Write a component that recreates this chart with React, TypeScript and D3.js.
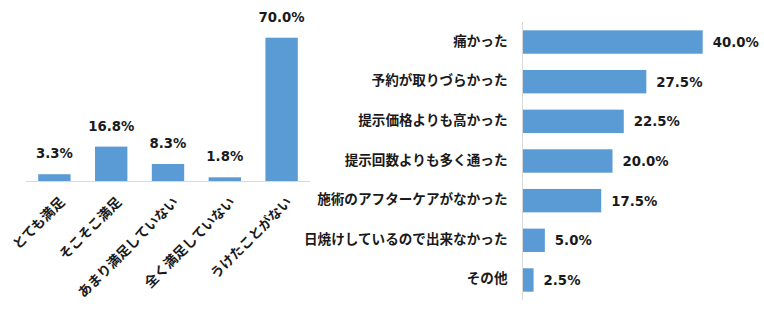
import React from "react";
import * as d3 from "d3";

const leftCategories = ["とても満足", "そこそこ満足", "あまり満足していない", "全く満足していない", "うけたことがない"];
const leftValues = [3.3, 16.8, 8.3, 1.8, 70.0];

const rightCategories = [
  "痛かった",
  "予約が取りづらかった",
  "提示価格よりも高かった",
  "提示回数よりも多く通った",
  "施術のアフターケアがなかった",
  "日焼けしているので出来なかった",
  "その他",
];
const rightValues = [40.0, 27.5, 22.5, 20.0, 17.5, 5.0, 2.5];

const BAR = "#5B9BD5";
const FONT = "'Noto Sans CJK JP', 'Noto Sans', sans-serif";
const NUMFONT = "'DejaVu Sans', 'Noto Sans CJK JP', sans-serif";
const TEXT = "#1a1a1a";

export default function App() {
  const W = 764, H = 313;
  // left chart
  const lx = d3.scaleBand<string>().domain(leftCategories).range([26, 310]).paddingInner(0.43).paddingOuter(0.215);
  const ly = d3.scaleLinear().domain([0, 70]).range([181, 37.7]);
  // right chart
  const ry = d3.scaleBand<string>().domain(rightCategories).range([22, 300]).paddingInner(0.41).paddingOuter(0.21);
  const rx = d3.scaleLinear().domain([0, 40]).range([522.3, 702.7]);

  return (
    <svg width={W} height={H} style={{ position: "absolute", left: 0, top: 0, background: "#fff" }} fontFamily={FONT}>
      {/* left chart */}
      {leftCategories.map((c, i) => {
        const x = lx(c)!;
        const y = ly(leftValues[i]);
        return (
          <g key={c}>
            <rect x={x} y={y} width={lx.bandwidth()} height={ly(0) - y} fill={BAR} />
            <text x={x + lx.bandwidth() / 2} y={y - 16} textAnchor="middle" fontFamily={NUMFONT} fontSize={13.3} fontWeight={700} fill={TEXT}>
              {leftValues[i].toFixed(1)}%
            </text>
            <text
              transform={`translate(${x + lx.bandwidth() / 2 + 2},${194}) rotate(-45)`}
              textAnchor="end"
              dominantBaseline="hanging"
              fontSize={13.5}
              fontWeight={700}
              fill={TEXT}
            >
              {c}
            </text>
          </g>
        );
      })}
      <line x1={26} x2={310} y1={181.5} y2={181.5} stroke="#D9D9D9" strokeWidth={1} />

      {/* right chart */}
      {rightCategories.map((c, i) => {
        const y = ry(c)!;
        const x1 = rx(rightValues[i]);
        const cy = y + ry.bandwidth() / 2;
        return (
          <g key={c}>
            <rect x={rx(0)} y={y} width={x1 - rx(0)} height={ry.bandwidth()} fill={BAR} />
            <text x={x1 + 10} y={cy + 0.5} dominantBaseline="central" fontFamily={NUMFONT} fontSize={13.3} fontWeight={700} fill={TEXT}>
              {rightValues[i].toFixed(1)}%
            </text>
            <text x={507.5} y={cy - 2.5} textAnchor="end" dominantBaseline="central" fontSize={13.6} fontWeight={700} fill={TEXT}>
              {c}
            </text>
          </g>
        );
      })}
      <line x1={522.5} x2={522.5} y1={22} y2={300} stroke="#D9D9D9" strokeWidth={1} />
    </svg>
  );
}
